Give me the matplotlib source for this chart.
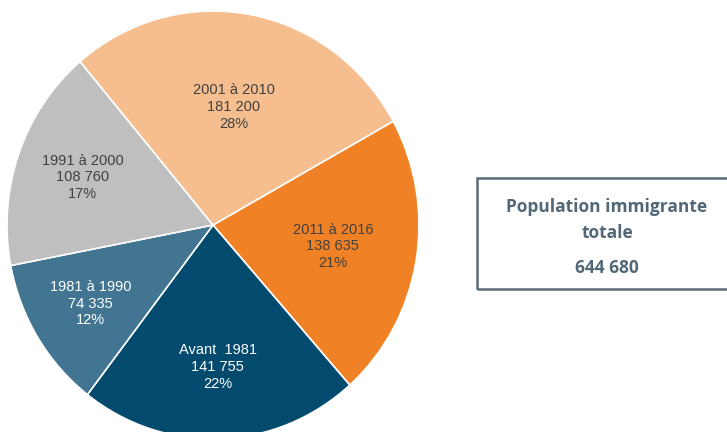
import matplotlib
matplotlib.use("Agg")
import matplotlib.pyplot as plt
import numpy as np
from matplotlib.patches import Rectangle

categories = ["2011 à 2016", "Avant  1981", "1981 à 1990", "1991 à 2000", "2001 à 2010"]
values = [138635, 141755, 74335, 108760, 181200]
value_labels = ["138 635", "141 755", "74 335", "108 760", "181 200"]
pct_labels = ["21%", "22%", "12%", "17%", "28%"]
total_label = "644 680"

colors = ["#F08125", "#024A6E", "#417592", "#BFBFBF", "#F6BE8F"]
text_colors = ["#404040", "white", "white", "#404040", "#404040"]
label_r = [0.59, 0.665, 0.70, 0.67, 0.56]

W, H = 727, 432
fig = plt.figure(figsize=(W / 100, H / 100), dpi=100)

cx, cy, rx, ry = 213, 225, 206, 214
ax = fig.add_axes([(cx - rx) / W, (H - cy - ry) / H, 2 * rx / W, 2 * ry / H])
wedges, _ = ax.pie(values, colors=colors, startangle=29, counterclock=False,
                   radius=1, wedgeprops=dict(edgecolor="white", linewidth=1.2))
ax.set_xlim(-1, 1)
ax.set_ylim(-1, 1)
ax.set_aspect("auto")
ax.axis("off")

for w, cat, v, p, tc, r in zip(wedges, categories, value_labels, pct_labels, text_colors, label_r):
    ang = np.deg2rad((w.theta1 + w.theta2) / 2)
    x, y = r * np.cos(ang), r * np.sin(ang)
    ax.text(x, y, f"{cat}\n{v}\n{p}", ha="center", va="center", color=tc,
            fontsize=10.5, family="Liberation Sans", linespacing=1.25)

# Total box
bx0, by0, bx1, by1 = 477, 178, 740, 289
rect = Rectangle((bx0 / W, 1 - by1 / H), (bx1 - bx0) / W, (by1 - by0) / H,
                 transform=fig.transFigure, fill=False, edgecolor="#5A6B78",
                 linewidth=1.8, clip_on=False)
fig.patches.append(rect)
tcol = "#526878"
for txt, yy in [("Population immigrante", 207), ("totale", 233), (total_label, 268)]:
    fig.text(607 / W, 1 - yy / H, txt, ha="center", va="center",
             color=tcol, fontsize=12.5, fontweight="bold", family="Open Sans")

fig.savefig("out.png", dpi=100, facecolor="white")
